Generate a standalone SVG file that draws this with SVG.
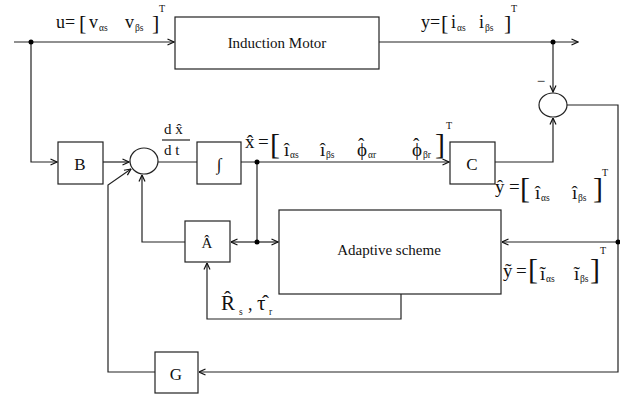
<svg xmlns="http://www.w3.org/2000/svg" width="620" height="398" viewBox="0 0 620 398">
  <style>
    .blk { fill: #fff; stroke: #222; stroke-width: 1.2; }
    .wire { fill: none; stroke: #222; stroke-width: 1.2; }
    .dot { fill: #000; }
    text { font-family: "Liberation Serif", "Times New Roman", serif; fill: #111; }
    .lbl { font-size: 15px; }
    .eq { font-size: 18px; }
    .eqb { font-size: 19px; }
    .big { font-size: 17px; }
    .sub { font-size: 9.5px; }
    .br { font-size: 22px; }
    .brl { font-size: 30px; }
    .sup { font-size: 10px; }
  </style>
  <defs>
    <marker id="arr" viewBox="0 0 8 8" refX="7.5" refY="4" markerWidth="8" markerHeight="8" markerUnits="userSpaceOnUse" orient="auto">
      <path d="M1,1 L7.5,4 L1,7" fill="none" stroke="#111" stroke-width="1.2"/>
    </marker>
  </defs>

  <!-- connectors -->
  <g id="connectors">
    <path class="wire" d="M14,42 H174" marker-end="url(#arr)"/>
    <path class="wire" d="M379,42 H578" marker-end="url(#arr)"/>
    <path class="wire" d="M553,42 V92" marker-end="url(#arr)"/>
    <path class="wire" d="M567,105 H618 V372 H199" marker-end="url(#arr)"/>
    <path class="wire" d="M618,242 H502" marker-end="url(#arr)"/>
    <path class="wire" d="M31,42 V162 H57" marker-end="url(#arr)"/>
    <path class="wire" d="M103,162 H129" marker-end="url(#arr)"/>
    <path class="wire" d="M158,162 H197"/>
    <path class="wire" d="M241,162 H449" marker-end="url(#arr)"/>
    <path class="wire" d="M257,162 V242"/>
    <path class="wire" d="M257,242 H231" marker-end="url(#arr)"/>
    <path class="wire" d="M257,242 H278" marker-end="url(#arr)"/>
    <path class="wire" d="M185,242 H142 V175" marker-end="url(#arr)"/>
    <path class="wire" d="M495,162 H553 V118" marker-end="url(#arr)"/>
    <path class="wire" d="M401,294 V319 H207 V263" marker-end="url(#arr)"/>
    <path class="wire" d="M155,372 H108 V185 L131,169" marker-end="url(#arr)"/>
    <circle class="dot" cx="31" cy="42" r="2.5"/>
    <circle class="dot" cx="553" cy="42" r="2.5"/>
    <circle class="dot" cx="257" cy="162" r="2.5"/>
    <circle class="dot" cx="257" cy="242" r="2.5"/>
    <circle class="dot" cx="618" cy="242" r="2.5"/>
  </g>

  <!-- blocks -->
  <g id="motor">
    <rect class="blk" x="175" y="17" width="204" height="52"/>
    <text class="lbl" x="277" y="48" text-anchor="middle">Induction Motor</text>
  </g>
  <g id="sum-out">
    <ellipse class="blk" cx="553" cy="105" rx="14" ry="12"/>
    <text class="lbl" x="541" y="86" text-anchor="middle">−</text>
  </g>
  <g id="block-B">
    <rect class="blk" x="58" y="142" width="45" height="42"/>
    <text class="big" x="80" y="170" text-anchor="middle">B</text>
  </g>
  <g id="sum-in">
    <ellipse class="blk" cx="144" cy="161" rx="14" ry="13"/>
  </g>
  <g id="integrator">
    <rect class="blk" x="197" y="142" width="44" height="42"/>
    <text class="big" x="219" y="170" text-anchor="middle">∫</text>
  </g>
  <g id="block-C">
    <rect class="blk" x="450" y="142" width="45" height="42"/>
    <text class="big" x="472" y="170" text-anchor="middle">C</text>
  </g>
  <g id="block-A">
    <rect class="blk" x="185" y="221" width="45" height="41"/>
    <text class="lbl" x="207" y="248" text-anchor="middle">Â</text>
  </g>
  <g id="adaptive">
    <rect class="blk" x="279" y="210" width="222" height="84"/>
    <text class="lbl" x="389" y="255" text-anchor="middle">Adaptive scheme</text>
  </g>
  <g id="block-G">
    <rect class="blk" x="155" y="352" width="43" height="41"/>
    <text class="big" x="176" y="380" text-anchor="middle">G</text>
  </g>

  <!-- signal labels -->
  <g id="labels">
    <!-- input vector -->
    <text class="eq" x="56" y="28">u<tspan x="65">=</tspan><tspan class="br" x="79" y="30">[</tspan><tspan x="89" y="28">v</tspan><tspan class="sub" x="99" y="31">αs</tspan><tspan x="125" y="28">v</tspan><tspan class="sub" x="135" y="31">βs</tspan><tspan class="br" x="152" y="30">]</tspan><tspan class="sup" x="159" y="12">T</tspan></text>

    <!-- measured output -->
    <text class="eq" x="421" y="28">y<tspan x="430">=</tspan><tspan class="br" x="441" y="30">[</tspan><tspan x="451" y="28">i</tspan><tspan class="sub" x="457" y="31">αs</tspan><tspan x="479" y="28">i</tspan><tspan class="sub" x="485" y="31">βs</tspan><tspan class="br" x="504" y="30">]</tspan><tspan class="sup" x="511" y="12">T</tspan></text>

    <!-- state derivative -->
    <text class="lbl" x="164" y="134">d x̂</text>
    <line class="wire" x1="162" y1="140" x2="190" y2="140"/>
    <text class="lbl" x="164" y="155">d t</text>

    <!-- estimated state (hats over phi placed by hand so they sit centred) -->
    <text class="eqb" x="245" y="148">x̂<tspan x="258">=</tspan><tspan class="brl" x="270" y="154">[</tspan><tspan x="284" y="156">î</tspan><tspan class="sub" x="290" y="158">αs</tspan><tspan x="320" y="156">î</tspan><tspan class="sub" x="326" y="158">βs</tspan><tspan x="357" y="156">ϕ</tspan><tspan dx="-8.9" dy="-5.5">ˆ</tspan><tspan class="sub" x="368" y="158">αr</tspan><tspan x="412" y="156">ϕ</tspan><tspan dx="-8.9" dy="-5.5">ˆ</tspan><tspan class="sub" x="423" y="158">βr</tspan><tspan class="brl" x="435" y="154">]</tspan><tspan class="sup" x="446" y="129">T</tspan></text>

    <!-- estimated output -->
    <text class="eqb" x="495" y="193">ŷ<tspan x="509">=</tspan><tspan class="brl" x="520" y="198">[</tspan><tspan x="535" y="199">î</tspan><tspan class="sub" x="541" y="201">αs</tspan><tspan x="572" y="199">î</tspan><tspan class="sub" x="578" y="201">βs</tspan><tspan class="brl" x="593" y="198">]</tspan><tspan class="sup" x="602" y="176">T</tspan></text>

    <!-- output error -->
    <text class="eqb" x="503" y="277">ỹ<tspan x="516">=</tspan><tspan class="brl" x="528" y="279">[</tspan><tspan x="540" y="280">ĩ</tspan><tspan class="sub" x="546" y="282">αs</tspan><tspan x="574" y="280">ĩ</tspan><tspan class="sub" x="580" y="282">βs</tspan><tspan class="brl" x="590" y="279">]</tspan><tspan class="sup" x="600" y="254">T</tspan></text>

    <!-- adapted parameters -->
    <text font-size="21" x="221" y="310">R̂<tspan class="sub" x="239" y="315">s</tspan><tspan font-size="18" x="248" y="310">,</tspan><tspan x="257">τ̂</tspan><tspan class="sub" x="269" y="315">r</tspan></text>
  </g>
</svg>
